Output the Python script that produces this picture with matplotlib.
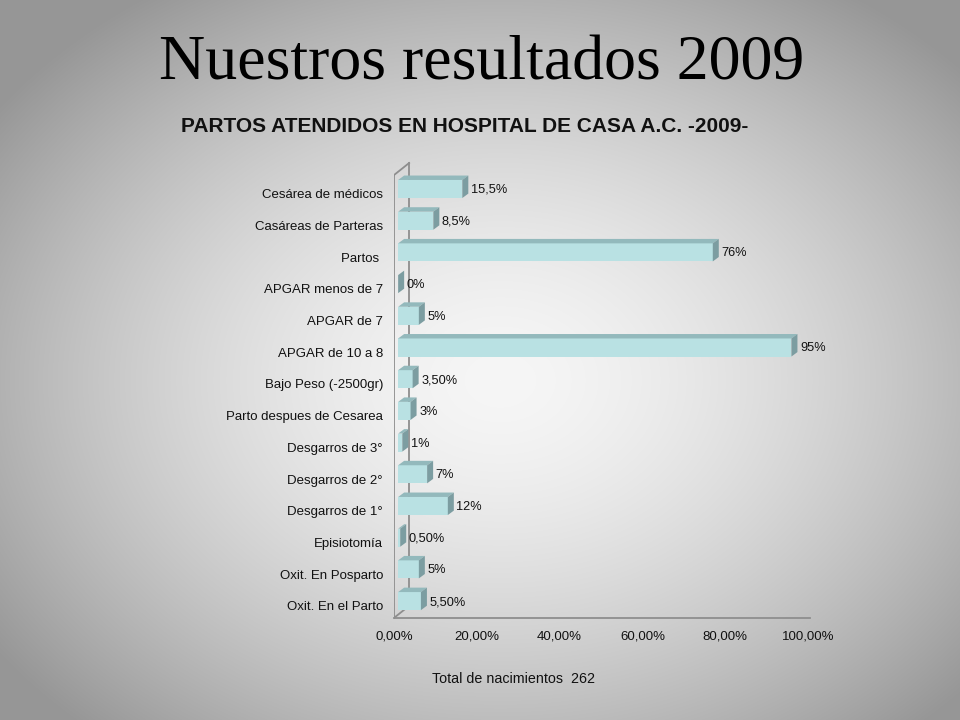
import numpy as np
import matplotlib
matplotlib.use("Agg")
import matplotlib.pyplot as plt
from matplotlib.patches import Polygon

categories = ["Cesárea de médicos", "Casáreas de Parteras", "Partos ", "APGAR menos de 7",
              "APGAR de 7", "APGAR de 10 a 8", "Bajo Peso (-2500gr)", "Parto despues de Cesarea",
              "Desgarros de 3°", "Desgarros de 2°", "Desgarros de 1°", "Episiotomía",
              "Oxit. En Posparto", "Oxit. En el Parto"]
values = [15.5, 8.5, 76, 0, 5, 95, 3.5, 3, 1, 7, 12, 0.5, 5, 5.5]
value_labels = ["15,5%", "8,5%", "76%", "0%", "5%", "95%", "3,50%", "3%", "1%", "7%",
                "12%", "0,50%", "5%", "5,50%"]
xtick_values = [0, 20, 40, 60, 80, 100]
xtick_labels = ["0,00%", "20,00%", "40,00%", "60,00%", "80,00%", "100,00%"]

W, H = 960, 720
fig = plt.figure(figsize=(9.6, 7.2), dpi=100)

# background radial gradient
bg = fig.add_axes([0, 0, 1, 1], zorder=0)
yy, xx = np.mgrid[0:H, 0:W]
r = np.sqrt(((xx - 500) / 620.0) ** 2 + ((yy - 380) / 470.0) ** 2)
r = np.clip(r, 0, 1)
g = (246 - (246 - 150) * r ** 1.6) / 255.0
bg.imshow(np.dstack([g, g, g]), extent=[0, 1, 0, 1], aspect="auto", origin="upper")
bg.axis("off")

# plot axes (pixel mapping: 0% -> 394px, 100% -> 808px)
px_left, px_right = 394, 808
px_top, px_bottom = 150, 622
ax = fig.add_axes([px_left / W, 1 - px_bottom / H, (px_right - px_left) / W, (px_bottom - px_top) / H],
                  zorder=1)
ax.patch.set_alpha(0)
cat_px = 31.7
y0_px = 189
ax.set_xlim(0, 100)
ax.set_ylim((px_bottom - y0_px) / cat_px, (px_top - y0_px) / cat_px)
for s in ax.spines.values():
    s.set_visible(False)

wall_c = "#8e8e8e"
dxw, dyw = 3.65, 0.38
ytop, ybot = -0.44, 13.53
ax.plot([0, 0], [ytop, ybot], color=wall_c, lw=1.3, zorder=1)
ax.plot([0, dxw], [ytop, ytop - dyw], color=wall_c, lw=1.3, zorder=1)
ax.plot([dxw, dxw], [ytop - dyw, ybot - dyw], color=wall_c, lw=1.3, zorder=1)
ax.plot([0, dxw], [ybot, ybot - dyw], color=wall_c, lw=1.3, zorder=1)
ax.plot([0, 100.5], [ybot, ybot], color=wall_c, lw=1.3, zorder=1, clip_on=False)

front_c = "#B9E1E3"
top_c = "#93B9BC"
side_c = "#7C9DA1"
x0 = 1.0
bh = 0.57
dxb, dyb = 1.45, 0.14
for i, (v, lab) in enumerate(zip(values, value_labels)):
    yt = i - bh / 2
    yb = i + bh / 2
    x1 = x0 + v
    if v > 0:
        ax.add_patch(Polygon([(x0, yt), (x1, yt), (x1, yb), (x0, yb)], closed=True,
                             facecolor=front_c, edgecolor="none", zorder=3))
        ax.add_patch(Polygon([(x0, yt), (x1, yt), (x1 + dxb, yt - dyb), (x0 + dxb, yt - dyb)],
                             closed=True, facecolor=top_c, edgecolor="none", zorder=3))
    ax.add_patch(Polygon([(x1, yt), (x1 + dxb, yt - dyb), (x1 + dxb, yb - dyb), (x1, yb)],
                         closed=True, facecolor=side_c, edgecolor="none", zorder=3))
    ax.text(x1 + dxb + 0.6, i + 0.03, lab, ha="left", va="center", fontsize=9.2,
            family="Liberation Sans", color="#111111", zorder=4)

ax.set_yticks(np.arange(len(categories)) + 0.15)
ax.set_yticklabels(categories, fontsize=9.5, family="Liberation Sans", color="#111111")
ax.set_xticks(xtick_values)
ax.set_xticklabels(xtick_labels, fontsize=9.5, family="Liberation Sans", color="#111111")
ax.tick_params(axis="both", length=0)
ax.tick_params(axis="y", pad=8)
ax.tick_params(axis="x", pad=6)

fig.text(482 / W, 1 - 64 / H, "Nuestros resultados 2009", ha="center", va="center",
         fontsize=46, family="Liberation Serif", color="#000000")
fig.text(465 / W, 1 - 127 / H, "PARTOS ATENDIDOS EN HOSPITAL DE CASA A.C. -2009-", ha="center",
         va="center", fontsize=15, fontweight="bold", family="Liberation Sans", color="#111111")
fig.text(513 / W, 1 - 679 / H, "Total de nacimientos  262", ha="center", va="center",
         fontsize=10.3, family="Liberation Sans", color="#111111")

fig.savefig("out.png", dpi=100)
